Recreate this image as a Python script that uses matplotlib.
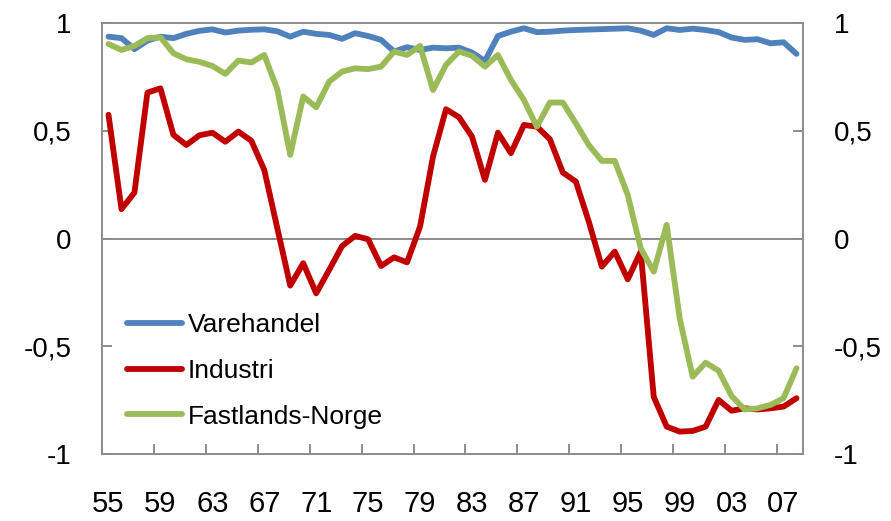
import matplotlib
matplotlib.use("Agg")
import matplotlib.pyplot as plt
import numpy as np

plt.rcParams['font.family'] = ['Liberation Sans', 'DejaVu Sans']

years = list(range(1955, 2009))
tick_labels = ['55', '59', '63', '67', '71', '75', '79', '83', '87', '91', '95', '99', '03', '07']

varehandel = [0.938, 0.931, 0.880, 0.920, 0.938, 0.931, 0.951, 0.965, 0.972, 0.957,
              0.966, 0.970, 0.972, 0.963, 0.938, 0.961, 0.951, 0.946, 0.928, 0.954,
              0.941, 0.923, 0.869, 0.889, 0.876, 0.887, 0.884, 0.887, 0.864, 0.825,
              0.941, 0.961, 0.977, 0.959, 0.961, 0.966, 0.969, 0.971, 0.973, 0.975,
              0.977, 0.966, 0.946, 0.977, 0.969, 0.975, 0.969, 0.959, 0.934, 0.923,
              0.926, 0.907, 0.912, 0.858]

industri = [0.575, 0.137, 0.214, 0.678, 0.698, 0.482, 0.435, 0.480, 0.492, 0.450,
            0.497, 0.455, 0.319, 0.050, -0.218, -0.114, -0.254, -0.145, -0.034, 0.013,
            -0.003, -0.127, -0.087, -0.110, 0.056, 0.381, 0.601, 0.564, 0.474, 0.273,
            0.492, 0.397, 0.528, 0.520, 0.462, 0.307, 0.265, 0.079, -0.130, -0.060,
            -0.189, -0.060, -0.734, -0.873, -0.896, -0.893, -0.873, -0.749, -0.799, -0.788,
            -0.793, -0.788, -0.780, -0.741]

fastlands = [0.904, 0.876, 0.895, 0.931, 0.935, 0.861, 0.833, 0.821, 0.802, 0.765,
             0.827, 0.818, 0.853, 0.694, 0.389, 0.660, 0.610, 0.729, 0.776, 0.791,
             0.787, 0.799, 0.869, 0.853, 0.895, 0.690, 0.807, 0.869, 0.849, 0.799,
             0.853, 0.737, 0.644, 0.520, 0.632, 0.632, 0.536, 0.435, 0.361, 0.361,
             0.203, -0.045, -0.153, 0.064, -0.370, -0.641, -0.576, -0.613, -0.731, -0.793,
             -0.788, -0.772, -0.741, -0.602]

series_names = ['Varehandel', 'Industri', 'Fastlands-Norge']
colors = ['#4F81BD', '#C00000', '#9BBB59']
grey = '#8C8C8C'

fig = plt.figure(figsize=(8.91, 5.21), dpi=100)
ax = fig.add_axes([102/891, 1-454/521, 701/891, (454-23.3)/521])

x = np.arange(len(years))
for vals, name, c in zip([varehandel, industri, fastlands], series_names, colors):
    ax.plot(x, vals, color=c, lw=4.2, label=name, solid_capstyle='round', solid_joinstyle='round', zorder=3)

ax.axhline(0, color=grey, lw=1.4, zorder=2)

ax.set_xlim(-0.5, len(years) - 0.5)
ax.set_ylim(-1, 1)

major = [years.index(1900 + int(t)) if int(t) > 50 else years.index(2000 + int(t)) for t in tick_labels]
ax.set_xticks(major)
ax.set_xticklabels(tick_labels)
ax.set_xticks(np.arange(-0.5, len(years), 4), minor=True)
ax.tick_params(axis='x', which='major', length=0, pad=26, labelsize=21)
ax.tick_params(axis='x', which='minor', direction='in', length=7, width=1.4, color=grey)

yt = [-1, -0.5, 0, 0.5, 1]
ax.set_yticks(yt)
ax.set_yticklabels([('%g' % v).replace('.', ',') for v in yt])
ax.tick_params(axis='y', direction='in', length=7, width=1.4, color=grey,
               left=True, right=True, labelleft=True, labelright=True, pad=22, labelsize=20)

for s in ax.spines.values():
    s.set_color(grey)
    s.set_linewidth(1.4)

leg = ax.legend(loc='center left', bbox_to_anchor=((126.7-102)/701, (454-371)/430.7),
                frameon=False, fontsize=19, handlelength=2.1, handletextpad=0.2,
                labelspacing=0.82, borderpad=0, borderaxespad=0)
for h in leg.get_lines():
    h.set_linewidth(4.2)

fig.savefig('out.png', dpi=100)
